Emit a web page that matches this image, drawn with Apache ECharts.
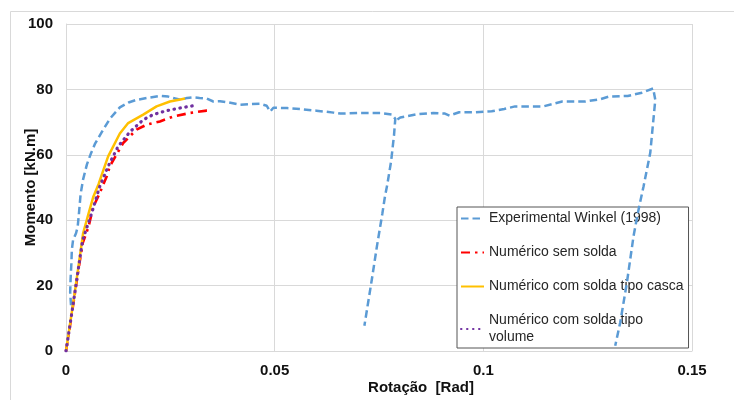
<!DOCTYPE html>
<html>
<head>
<meta charset="utf-8">
<script src="https://cdn.jsdelivr.net/npm/echarts@6/dist/echarts.min.js"></script>
<style>
html,body{margin:0;padding:0;background:#fff;}
#chart{width:734px;height:400px;}
</style>
</head>
<body>
<div id="chart"></div>
<script>
var seriesNames = ['Experimental Winkel (1998)', 'Numérico sem solda', 'Numérico com solda tipo casca', 'Numérico com solda tipo volume'];
var xTicks = ['0', '0.05', '0.1', '0.15'];
var yTicks = ['0', '20', '40', '60', '80', '100'];

var experimental = [
  [0.0012,14],[0.0010,18],[0.0011,22],[0.0013,27],[0.0014,31],[0.0017,34],[0.0024,36],[0.0028,38],
  [0.0031,42],[0.0035,48],[0.0041,52.5],[0.0050,57],[0.0060,60.5],[0.0070,63.5],[0.0086,67],
  [0.0105,71],[0.0129,74.5],[0.0150,76],[0.0169,76.8],[0.0200,77.5],[0.0225,78],[0.0245,77.8],
  [0.0262,77.2],[0.0277,76.8],[0.0290,77.4],[0.0305,77.6],[0.0320,77.4],[0.0337,77.2],[0.0353,76.3],
  [0.0369,76.4],[0.0390,76.0],[0.0417,75.3],[0.0445,75.5],[0.0465,75.6],[0.0481,75.0],[0.0489,73.2],
  [0.0497,74.4],[0.0530,74.3],[0.0561,74.0],[0.0600,73.5],[0.0641,72.9],[0.0657,72.6],[0.0700,72.8],
  [0.0753,72.8],[0.0781,72.3],[0.0789,71.0],[0.0786,66],[0.0779,58],[0.0770,51],[0.0764,47],
  [0.0758,42],[0.0745,32],[0.0733,22],[0.0715,7.7],null,
  [0.0794,70.8],[0.0801,71.4],[0.0841,72.4],[0.0880,72.8],[0.0908,72.6],
  [0.0919,72.0],[0.0942,73.0],[0.0980,73.0],[0.1020,73.3],[0.1050,74.0],[0.1076,74.8],[0.1144,74.8],
  [0.1189,76.3],[0.1245,76.3],[0.1280,77.0],[0.1301,77.8],[0.1346,78.0],[0.1380,79.0],[0.1407,80.3],
  [0.1412,76.8],[0.1400,60.6],[0.1384,50.4],[0.1372,43.3],[0.1360,35.2],[0.1344,20.9],[0.1328,8.7],
  [0.1316,1.6]
];
var semSolda = [
  [0,0],[0.0010,8],[0.0020,16.5],[0.0030,25],[0.0040,33],[0.0054,38],[0.0065,44],[0.0078,47.5],
  [0.0098,53.5],[0.0105,56.5],[0.0137,63.6],[0.0169,67.7],[0.0193,69.2],[0.0225,70.2],[0.0257,71.7],
  [0.0297,72.8],[0.0337,73.5],[0.0345,73.5]
];
var cascaSolda = [
  [0,0],[0.0010,8.5],[0.0020,17],[0.0030,26],[0.0041,36],[0.0054,42],[0.0065,47],[0.0078,51],
  [0.0086,54],[0.0101,59.5],[0.0129,66.5],[0.0149,69.7],[0.0185,72.3],[0.0217,74.8],[0.0249,76.3],
  [0.0277,77.0],[0.0285,77.2]
];
var volumeSolda = [
  [0,0],[0.0010,8.3],[0.0020,16.8],[0.0030,25.5],[0.0040,34],[0.0062,42.3],[0.0080,50],[0.0101,56.5],
  [0.0125,62.6],[0.0153,67],[0.0185,70.7],[0.0209,72.3],[0.0241,73.5],[0.0273,74.3],[0.0305,75.0],
  [0.0312,75.0]
];

var FONT = 'Liberation Sans, Arial, sans-serif';
function tickLabel(list, step) {
  return function (v) { var i = Math.round(v / step); return list[i] !== undefined ? list[i] : ''; };
}

var chart = echarts.init(document.getElementById('chart'), null, {renderer: 'canvas'});
chart.setOption({
  animation: false,
  backgroundColor: '#ffffff',
  graphic: [{
    type: 'rect', left: 8, top: 9, z: -10, silent: true,
    shape: {x: 0, y: 0, width: 760, height: 420},
    style: {fill: null, stroke: '#d9d9d9', lineWidth: 1}
  }],
  grid: {left: 66, right: 42, top: 24, bottom: 48, containLabel: false},
  legend: {
    orient: 'vertical', left: 457, top: 207, z: 1,
    padding: [3, 5, 2, 3], itemGap: 17, itemWidth: 23, itemHeight: 14,
    backgroundColor: '#ffffff', borderColor: '#555555', borderWidth: 1, borderRadius: 0,
    itemStyle: {opacity: 0},
    data: seriesNames,
    formatter: function (name) { return name === seriesNames[3] ? 'Numérico com solda tipo\nvolume' : name; },
    textStyle: {fontFamily: FONT, fontSize: 14, color: '#262626', lineHeight: 17}
  },
  xAxis: {
    type: 'value', min: 0, max: 0.15, interval: 0.05,
    name: 'Rotação  [Rad]', nameLocation: 'middle', nameGap: 29, nameMoveOverlap: false,
    nameTextStyle: {fontFamily: FONT, fontSize: 15, fontWeight: 'bold', color: '#111', padding: [0, 0, 0, 84]},
    axisLine: {show: true, lineStyle: {color: '#d9d9d9', width: 1}},
    axisTick: {show: false},
    axisLabel: {fontFamily: FONT, fontSize: 15, fontWeight: 'bold', color: '#111', margin: 12,
      formatter: tickLabel(xTicks, 0.05)},
    splitLine: {show: true, lineStyle: {color: '#d9d9d9', width: 1}}
  },
  yAxis: {
    type: 'value', min: 0, max: 100, interval: 20,
    name: 'Momento [kN.m]', nameLocation: 'middle', nameGap: 28, nameRotate: 90, nameMoveOverlap: false,
    nameTextStyle: {fontFamily: FONT, fontSize: 15, fontWeight: 'bold', color: '#111'},
    axisLine: {show: true, lineStyle: {color: '#d9d9d9', width: 1}},
    axisTick: {show: false},
    axisLabel: {fontFamily: FONT, fontSize: 15, fontWeight: 'bold', color: '#111', margin: 13,
      formatter: tickLabel(yTicks, 20)},
    splitLine: {show: true, lineStyle: {color: '#d9d9d9', width: 1}}
  },
  series: [
    {name: seriesNames[0], type: 'line', data: experimental, symbol: 'none', z: 3, connectNulls: false,
     itemStyle: {color: '#5B9BD5'},
     lineStyle: {color: '#5B9BD5', width: 2.5, type: [7.5, 4]}},
    {name: seriesNames[1], type: 'line', data: semSolda, symbol: 'none', z: 3,
     itemStyle: {color: '#FF0000'},
     lineStyle: {color: '#FF0000', width: 2.6, type: [9, 5, 2.5, 5]}},
    {name: seriesNames[2], type: 'line', data: cascaSolda, symbol: 'none', z: 3,
     itemStyle: {color: '#FFC000'},
     lineStyle: {color: '#FFC000', width: 2.5}},
    {name: seriesNames[3], type: 'line', data: volumeSolda, symbol: 'none', z: 3,
     itemStyle: {color: '#7030A0'},
     lineStyle: {color: '#7030A0', width: 3.2, type: [0.5, 5.5], cap: 'round'}}
  ]
});
</script>
</body>
</html>
